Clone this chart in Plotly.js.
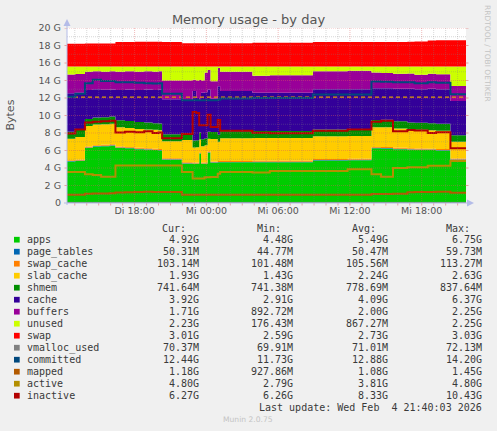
<!DOCTYPE html>
<html><head><meta charset="utf-8">
<script src="https://cdn.plot.ly/plotly-3.0.1.min.js"></script>
<style>html,body{margin:0;padding:0;background:#f0f0f0;}#chart{width:497px;height:431px;}</style>
</head><body><div id="chart"></div>
<script>
// time in hours since Tue 00:00 (step starts)
const hours = [12.35,13.05,13.85,14.50,15.20,15.90,16.40,17.20,18.00,18.80,19.50,20.00,20.30,21.95,22.85,23.15,23.40,23.55,23.85,24.10,24.35,24.95,25.15,27.85,29.30,32.90,35.80,37.80,38.60,39.60,40.80,41.40,42.50,43.20,44.40,45.70];
// stacked series, in G
const apps       = [4.75,4.80,6.30,6.45,6.50,6.55,6.30,6.25,6.15,6.10,6.05,6.00,4.95,4.50,4.48,4.48,5.65,4.48,4.48,5.75,4.60,4.65,4.65,4.67,4.67,4.87,4.90,6.25,6.23,6.15,6.10,6.07,6.05,6.00,4.92,4.92];
const pageTables = [0.047,0.048,0.052,0.053,0.052,0.052,0.051,0.051,0.050,0.050,0.050,0.050,0.048,0.046,0.045,0.045,0.047,0.046,0.046,0.048,0.047,0.048,0.049,0.049,0.049,0.050,0.050,0.055,0.056,0.054,0.053,0.052,0.052,0.051,0.050,0.050];
const swapCache  = [0.102,0.102,0.104,0.105,0.105,0.106,0.106,0.107,0.107,0.108,0.108,0.108,0.105,0.104,0.104,0.104,0.104,0.104,0.104,0.104,0.104,0.104,0.105,0.105,0.105,0.106,0.106,0.107,0.108,0.109,0.110,0.111,0.112,0.113,0.103,0.103];
const slabCache  = [2.45,2.60,2.35,2.35,2.35,2.35,2.20,2.15,2.15,2.15,2.15,2.15,1.95,2.55,1.70,1.75,1.45,1.87,1.97,1.45,2.55,2.20,2.60,2.60,2.60,2.60,2.60,2.25,2.27,2.20,2.15,2.13,2.10,2.10,1.93,1.93];
const shmem      = [0.80,0.80,0.80,0.80,0.80,0.82,0.80,0.80,0.80,0.78,0.77,0.77,0.80,0.78,0.80,0.80,0.80,0.80,0.80,0.80,0.80,0.80,0.80,0.80,0.80,0.78,0.78,0.82,0.84,0.82,0.80,0.80,0.80,0.80,0.74,0.74];
const cache      = [4.40,4.25,3.30,3.25,3.15,3.08,3.45,3.60,3.65,3.77,3.78,3.88,4.00,3.77,5.67,4.82,3.75,5.30,5.25,4.80,3.80,5.55,4.60,4.38,4.38,4.60,4.57,3.63,3.61,3.73,3.85,3.85,3.95,3.95,3.92,3.92];
const buffers    = [2.15,2.15,2.10,2.05,2.05,2.10,2.10,2.10,2.10,2.10,2.10,2.10,2.15,2.25,1.30,2.00,2.25,1.40,2.25,2.25,2.00,2.07,2.20,1.95,2.00,2.05,2.10,1.80,1.75,1.70,1.75,1.65,1.70,1.70,1.71,1.71];
const unused     = [0.90,0.85,0.60,0.55,0.60,0.55,0.60,0.55,0.60,0.55,0.60,0.55,1.60,1.60,1.50,1.60,1.55,1.60,0.70,0.40,1.70,0.18,0.60,1.05,1.00,0.55,0.50,0.70,0.75,0.85,0.80,0.95,0.85,0.90,2.23,2.23];
const swap       = [2.60,2.60,2.62,2.62,2.62,2.62,2.80,2.80,2.82,2.82,2.82,2.82,2.80,2.65,2.65,2.65,2.65,2.65,2.65,2.65,2.65,2.65,2.65,2.70,2.72,2.78,2.78,2.78,2.78,2.80,2.82,2.85,2.95,2.98,3.01,3.01];
// line series, in G
const vmallocUsed = [0.070,0.070,0.071,0.071,0.071,0.071,0.071,0.071,0.071,0.072,0.072,0.072,0.071,0.070,0.070,0.070,0.070,0.070,0.070,0.070,0.070,0.070,0.071,0.071,0.071,0.071,0.071,0.071,0.071,0.071,0.071,0.071,0.071,0.071,0.070,0.070];
const committed  = [12.15,12.50,13.70,14.10,13.95,13.95,13.80,13.80,13.75,13.70,13.65,13.70,12.50,11.75,11.73,11.73,11.73,11.73,11.75,11.75,11.75,11.80,11.95,12.00,12.00,12.40,12.40,13.90,13.85,13.80,13.80,13.70,13.80,13.75,12.44,12.44];
const mapped     = [0.93,0.95,1.05,1.08,1.10,1.12,1.20,1.22,1.25,1.28,1.25,1.27,1.25,0.95,0.94,0.94,0.94,0.94,0.94,0.94,0.94,0.95,0.95,0.95,0.95,0.95,0.95,1.03,1.03,1.05,1.22,1.25,1.27,1.30,1.18,1.18];
const active     = [3.55,3.55,3.30,3.20,3.00,3.00,4.30,4.30,4.30,4.30,4.30,4.30,4.30,3.55,2.80,2.80,2.80,2.80,2.95,2.95,2.98,3.35,3.55,3.50,3.67,3.67,3.86,3.30,3.00,4.00,4.10,4.10,4.25,4.25,4.80,4.80];
const inactive   = [7.95,8.40,9.20,9.30,9.35,9.40,8.05,8.15,8.10,8.20,8.00,8.05,7.40,7.90,10.40,10.30,8.90,8.90,8.90,10.10,8.70,9.50,8.25,8.03,7.98,8.25,8.40,9.30,9.40,8.20,8.35,8.30,8.00,8.10,6.27,6.27];
const hruleLevel = 12.1;

const xTickVals = [18,24,30,36,42];
const xTickText = ['Di 18:00','Mi 00:00','Mi 06:00','Mi 12:00','Mi 18:00'];
const yTickVals = [0,2,4,6,8,10,12,14,16,18,20];
const yTickText = ['0','2 G','4 G','6 G','8 G','10 G','12 G','14 G','16 G','18 G','20 G'];

const legendNames = ['apps','page_tables','swap_cache','slab_cache','shmem','cache','buffers','unused','swap','vmalloc_used','committed','mapped','active','inactive'];
const legendColors = ['#00CC00','#0066B3','#FF8000','#FFCC00','#008F00','#330099','#990099','#CCFF00','#FF0000','#808080','#00487D','#B35A00','#B38F00','#B30000'];
const legendCur = ['4.92G','50.31M','103.14M','1.93G','741.64M','3.92G','1.71G','2.23G','3.01G','70.37M','12.44G','1.18G','4.80G','6.27G'];
const legendMin = ['4.48G','44.77M','101.48M','1.43G','741.38M','2.91G','892.72M','176.43M','2.59G','69.91M','11.73G','927.86M','2.79G','6.26G'];
const legendAvg = ['5.49G','50.47M','105.56M','2.24G','778.69M','4.09G','2.00G','867.27M','2.73G','71.01M','12.88G','1.08G','3.81G','8.33G'];
const legendMax = ['6.75G','59.73M','113.27M','2.63G','837.64M','6.37G','2.25G','2.25G','3.03G','72.13M','14.20G','1.45G','4.80G','10.43G'];

const stacked = [apps,pageTables,swapCache,slabCache,shmem,cache,buffers,unused,swap];
const lineSeries = [vmallocUsed,committed,mapped,active,inactive];

const traces = [];
stacked.forEach((ys,i)=>{
  traces.push({type:'scatter', mode:'lines', x:hours, y:ys, stackgroup:'mem', name:legendNames[i],
    line:{width:0, shape:'hv', color:legendColors[i]}, fillcolor:legendColors[i], hoverinfo:'skip'});
});
traces.push({type:'scatter', mode:'lines', x:[hours[0],hours[hours.length-1]], y:[hruleLevel,hruleLevel],
  line:{color:'#E0A000', width:1.3, dash:'4px,3px'}, hoverinfo:'skip'});
lineSeries.forEach((ys,j)=>{
  const i = 9+j;
  traces.push({type:'scatter', mode:'lines', x:hours, y:ys, name:legendNames[i],
    line:{width: j===0?1:2, shape:'hv', color:legendColors[i]}, hoverinfo:'skip'});
});

// pixel helpers
const L=67, R=466, T=28, B=203, W=R-L, H=B-T;
const px = v => (v-L)/W;
const py = v => (B-v)/H;

const shapes = [];
const gridMinor='rgba(130,130,130,0.32)', gridMajor='rgba(220,90,90,0.42)';
const xr=[12.35,45.7];
for(let h=Math.ceil(xr[0]); h<=Math.floor(xr[1]); h++){
  const major = h%6===0;
  shapes.push({type:'line', xref:'x', yref:'y', x0:h, x1:h, y0:0, y1:20, layer:'above',
    line:{color: major?gridMajor:gridMinor, width:1, dash:'1px,1px'}});
  shapes.push({type:'line', xref:'x', yref:'paper', x0:h, x1:h, y0:0, y1:py(205.5), layer:'above',
    line:{color:'#e6a0a0', width:1}});
}
for(let g=1; g<=20; g++){
  const major = g%2===0;
  shapes.push({type:'line', xref:'paper', yref:'y', x0:0, x1:1, y0:g, y1:g, layer:'above',
    line:{color: major?gridMajor:gridMinor, width:1, dash:'1px,1px'}});
  if(major){
    shapes.push({type:'line', xref:'paper', yref:'y', x0:px(64.5), x1:0, y0:g, y1:g, layer:'above', line:{color:'#e6a0a0', width:1}});
    shapes.push({type:'line', xref:'paper', yref:'y', x0:1, x1:px(468.5), y0:g, y1:g, layer:'above', line:{color:'#e6a0a0', width:1}});
  }
}
const axisCol = '#b4bce8';
shapes.push({type:'line', xref:'paper', yref:'paper', x0:px(67), x1:px(67), y0:py(205), y1:py(24), layer:'above', line:{color:axisCol, width:1}});
shapes.push({type:'line', xref:'paper', yref:'paper', x0:px(64), x1:px(469), y0:py(203), y1:py(203), layer:'above', line:{color:axisCol, width:1}});
shapes.push({type:'path', xref:'paper', yref:'paper', layer:'above', fillcolor:axisCol, line:{width:0},
  path:`M ${px(67)} ${py(19)} L ${px(63.5)} ${py(26)} L ${px(70.5)} ${py(26)} Z`});
shapes.push({type:'path', xref:'paper', yref:'paper', layer:'above', fillcolor:axisCol, line:{width:0},
  path:`M ${px(474)} ${py(203)} L ${px(467)} ${py(199.5)} L ${px(467)} ${py(206.5)} Z`});

const mono = {family:'DejaVu Sans Mono', size:10, color:'#3a3a3a'};
const annotations = [];
const ann = (x,y,text,xanchor,font,extra)=>Object.assign({xref:'paper', yref:'paper', x:px(x), y:py(y), text:text,
  xanchor:xanchor, yanchor:'middle', showarrow:false, font:font, borderpad:0, borderwidth:0}, extra||{});

['Cur:','Min:','Avg:','Max:'].forEach((t,k)=>{
  annotations.push(ann([185.7,280.7,375.7,470][k], 228.3, t, 'right', mono));
});
legendNames.forEach((n,i)=>{
  const yy = 239.7 + 12*i;
  shapes.push({type:'rect', xref:'paper', yref:'paper', x0:px(14), x1:px(19.7), y0:py(yy+2.85), y1:py(yy-2.85),
    fillcolor:legendColors[i], line:{width:0}, layer:'above'});
  annotations.push(ann(26.7, yy, n, 'left', mono));
  annotations.push(ann(199, yy, legendCur[i], 'right', mono));
  annotations.push(ann(293.3, yy, legendMin[i], 'right', mono));
  annotations.push(ann(387.7, yy, legendAvg[i], 'right', mono));
  annotations.push(ann(482.3, yy, legendMax[i], 'right', mono));
});
annotations.push(ann(482.3, 407.7, 'Last update: Wed Feb\u00a0\u00a04 21:40:03 2026', 'right', mono));
annotations.push(ann(248, 419.7, 'Munin 2.0.75', 'center', {family:'DejaVu Sans', size:7.6, color:'#c4c4c4'}));
annotations.push(ann(10, 115.5, 'Bytes', 'center', {family:'DejaVu Sans', size:11, color:'#555'}, {textangle:-90}));
annotations.push(ann(487.5, 53.5, 'RRDTOOL / TOBI OETIKER', 'center', {family:'DejaVu Sans', size:7.5, color:'#c4c4c4'}, {textangle:90}));

const tickFont = {family:'DejaVu Sans', size:9.5, color:'#555'};
const layout = {
  width:497, height:431, margin:{l:67, r:31, t:28, b:228, pad:0},
  paper_bgcolor:'#f0f0f0', plot_bgcolor:'#ffffff', showlegend:false,
  title:{text:'Memory usage - by day', font:{family:'DejaVu Sans', size:13, color:'#555'},
    x:0.5, xref:'container', xanchor:'center', y:1-19.3/431, yref:'container', yanchor:'middle'},
  xaxis:{range:xr, tickmode:'array', tickvals:xTickVals, ticktext:xTickText, showgrid:false, zeroline:false,
    showline:false, ticks:'', tickfont:tickFont, fixedrange:true},
  yaxis:{range:[0,20], tickmode:'array', tickvals:yTickVals, ticktext:yTickText, showgrid:false, zeroline:false,
    showline:false, ticks:'', tickfont:tickFont, ticklabelstandoff:5, fixedrange:true},
  shapes:shapes, annotations:annotations
};
Plotly.newPlot('chart', traces, layout, {staticPlot:true, displayModeBar:false});
</script></body></html>
